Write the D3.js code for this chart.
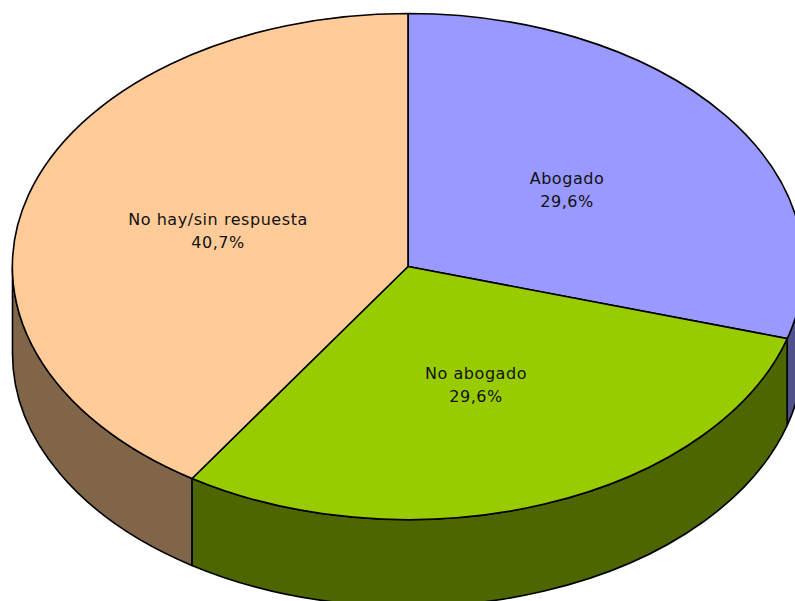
<!DOCTYPE html>
<html><head><meta charset="utf-8">
<script src="https://cdn.jsdelivr.net/npm/d3@7/dist/d3.min.js"></script>
<style>html,body{margin:0;padding:0;background:#fff;overflow:hidden}svg{display:block}</style>
</head><body><svg id="c" width="795" height="601"></svg>
<script>
const categories = ["Abogado","No abogado","No hay/sin respuesta"];
const values = [29.6,29.6,40.7];
const valueLabels = ["29,6%","29,6%","40,7%"];
const topColors = ["#9999FF","#99CC00","#FFCC99"];
const sideColors = ["#50508A","#4D6600","#816549"];
const labelPos = [[567,190],[476,385],[218,231]];

const W=795,H=601,cx=408,cy=266.5,rx=395.5,ry=253,depth=87,TAU=2*Math.PI;
const svg=d3.select("#c");
// angles follow the printed percentages of 100; the last slice closes the rounding gap
const pie=d3.pie().sort(null).endAngle(TAU*d3.sum(values)/100).value(d=>d)(values)
  .map(p=>p.index===values.length-1?{...p,endAngle:TAU}:p);
const px=t=>cx+rx*Math.sin(t), py=(t,d=0)=>cy-ry*Math.cos(t)+d;
const arcCmd=(a,b,d,sweep)=>`A${rx},${ry} 0 ${Math.abs(b-a)>Math.PI?1:0} ${sweep} ${px(b)},${py(b,d)}`;

// walls (only the front half of the ellipse is visible)
const lo=Math.PI/2, hi=3*Math.PI/2;
svg.append("g").selectAll("path").data(pie.filter(p=>p.endAngle>lo&&p.startAngle<hi)).join("path")
  .attr("d",p=>{
    const a=Math.max(p.startAngle,lo), b=Math.min(p.endAngle,hi);
    return `M${px(a)},${py(a)}${arcCmd(a,b,0,1)}L${px(b)},${py(b,depth)}${arcCmd(b,a,depth,0)}Z`;
  })
  .attr("fill",p=>sideColors[p.index]).attr("stroke","#000").attr("stroke-width",1.6).attr("stroke-linejoin","round");

// top face
const arc=d3.arc().innerRadius(0).outerRadius(1);
svg.append("g").attr("transform",`translate(${cx},${cy}) scale(${rx},${ry})`)
  .selectAll("path").data(pie).join("path")
  .attr("d",arc).attr("fill",p=>topColors[p.index])
  .attr("stroke","#000").attr("stroke-width",1.6).attr("stroke-linejoin","round")
  .attr("vector-effect","non-scaling-stroke");

// labels
const lab=svg.append("g").attr("font-family","'DejaVu Sans',Verdana,sans-serif").attr("font-size",16).attr("letter-spacing",0.55).attr("fill","#111").attr("text-anchor","middle");
categories.forEach((c,i)=>{
  lab.append("text").attr("x",labelPos[i][0]).attr("y",labelPos[i][1]-6).text(c);
  lab.append("text").attr("x",labelPos[i][0]).attr("y",labelPos[i][1]+16.5).text(valueLabels[i]);
});
</script></body></html>
